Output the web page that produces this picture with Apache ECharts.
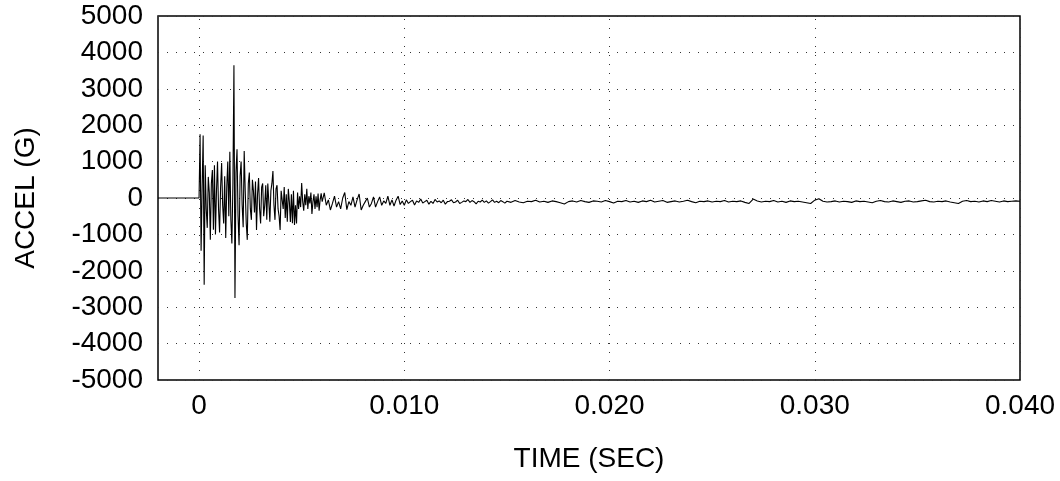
<!DOCTYPE html>
<html>
<head>
<meta charset="utf-8">
<script src="https://cdn.jsdelivr.net/npm/echarts@6/dist/echarts.min.js"></script>
<style>html,body{margin:0;padding:0;background:#fff;}#c{width:1060px;height:481px;}</style>
</head>
<body>
<div id="c"></div>
<script>
// Tick labels
var xTicks = [0, 0.010, 0.020, 0.030, 0.040];
var xTickLabels = ['0', '0.010', '0.020', '0.030', '0.040'];
var yTicks = [-5000, -4000, -3000, -2000, -1000, 0, 1000, 2000, 3000, 4000, 5000];

// Pre-trigger (flat) samples
var preTimes = [-0.002];
var preValues = [0];

// Burst segment: start 0 s, sample step 0.00005 s
var burstStart = 0;
var burstStep = 0.00005;
var burstValues = [
  0, 1750, -1450, 300, 1720, -2380, 900, -300, -820, 580,
  150, -1150, 400, 770, -870, 900, -1000, 200, 1000, -300,
  -950, 300, 960, -200, -700, 600, -1100, 300, 1000, -500,
  1270, -600, -1250, 400, 3650, -2750, 700, 1340, -500, -1300,
  600, 1000, -200, -800, 1290, 200, -700, -1150, 400, 700,
  -300, -600, 500, 200, -400, 450, -880, 100, 550, -300,
  -700, 300, 400, -500, -200, 350, -600, 400, -100, -650,
  200, 400, 740, -200, -600, 250, 350, -300, -500, -880,
  200, 250, -300, 300, -550, 100, -650, 250, -100, -660,
  100, -690, 200, -740, -200, -700, 150, -300, 50, -250,
  410, -100, -350, 100, -200, 250, -300, 50, -150, 150,
  -440, -100, 100, -300, 50, -250, 120, -350, -50, 130
];

// Decay segment: start 0.006 s, sample step 0.0001 s
var decayStart = 0.006;
var decayStep = 0.0001;
var decayValues = [
  -100, 140, -200, -50, -330, -150, 50, -250, -100, -300,
  0, 150, -320, -100, -200, 30, -250, -50, 110, -330,
  -200, -100, 0, -250, -150, 30, -250, -100, 30, -200,
  -80, -150, 50, -200, -50, -220, -60, 50, -180, -80,
  -200, -50, -150, -100, -60, -190, -80, -120, -30, -140,
  -100, -60, -170, -90, -150, -40, -110, -80, -130, -60,
  -170, -100, -90, -50, -130, -110, -60, -150, -120, -80,
  -100, -40, -120, -70, -100, -160, -90, -110, -60, -120,
  -80, -140, -100, -50, -120, -90, -130, -70, -100, -140
];

// Tail segment: start 0.015 s, sample step 0.0002 s
var tailStart = 0.015;
var tailStep = 0.0002;
var tailValues = [
  -90, -120, -70, -110, -130, -90, -100, -60, -110, -90,
  -120, -80, -100, -130, -165, -100, -80, -110, -70, -100,
  -120, -80, -90, -110, -70, -100, -140, -90, -100, -70,
  -110, -90, -120, -80, -100, -60, -110, -90, -70, -120,
  -100, -80, -110, -90, -60, -100, -130, -90, -100, -80,
  -110, -90, -100, -70, -110, -90, -100, -80, -120, -150,
  -30, -80, -110, -90, -100, -70, -110, -90, -120, -80,
  -100, -90, -110, -130, -150, -60, -20, -90, -110, -100,
  -80, -110, -90, -100, -120, -80, -100, -90, -110, -130,
  -90, -70, -100, -110, -80, -100, -120, -90, -80, -110,
  -100, -80, -60, -100, -110, -90, -100, -80, -110, -130,
  -150, -90, -70, -100, -90, -110, -80, -100, -70, -90,
  -110, -80, -100, -90, -80, -90
];

function seg(start, step, vals) {
  return vals.map(function (v, i) { return [+(start + i * step).toFixed(6), v]; });
}
var data = [];
preTimes.forEach(function (t, i) { data.push([t, preValues[i]]); });
data = data.concat(seg(burstStart, burstStep, burstValues),
                   seg(decayStart, decayStep, decayValues),
                   seg(tailStart, tailStep, tailValues));

var FONT = 'Liberation Sans, Arial, sans-serif';
var FS = 28;
var gridLine = { color: '#333', width: 1, type: [1, 8] };

var chart = echarts.init(document.getElementById('c'), null, { renderer: 'canvas' });
chart.setOption({
  animation: false,
  backgroundColor: '#fff',
  grid: { left: 158, right: 40, top: 16, bottom: 101, show: true, borderColor: '#000', borderWidth: 1.5, backgroundColor: 'transparent' },
  xAxis: {
    type: 'value', min: -0.002, max: 0.040,
    name: 'TIME (SEC)', nameLocation: 'middle', nameGap: 65,
    nameTextStyle: { fontFamily: FONT, fontSize: FS, color: '#000' },
    axisLine: { show: false }, axisTick: { show: false },
    splitLine: { show: false },
    axisLabel: {
      customValues: xTicks, margin: 12,
      fontFamily: FONT, fontSize: FS, color: '#000',
      formatter: function (v) { var k = xTicks.indexOf(v); return k >= 0 ? xTickLabels[k] : ''; }
    }
  },
  yAxis: {
    type: 'value', min: -5000, max: 5000, interval: 1000,
    name: 'ACCEL (G)', nameLocation: 'middle', nameGap: 118, nameRotate: 90,
    nameTextStyle: { fontFamily: FONT, fontSize: FS, color: '#000' },
    axisLine: { show: false }, axisTick: { show: false },
    splitLine: { show: true, lineStyle: gridLine },
    axisLabel: { margin: 15, fontFamily: FONT, fontSize: FS, color: '#000',
      formatter: function (v) { return String(v); } }
  },
  series: [{
    type: 'line', data: data, showSymbol: false, symbol: 'none', sampling: 'none',
    lineStyle: { color: '#000', width: 1.1 }, z: 5,
    markLine: {
      silent: true, symbol: ['none', 'none'], label: { show: false },
      lineStyle: gridLine, animation: false,
      data: xTicks.map(function (t) { return { xAxis: t }; })
    }
  }]
});
</script>
</body>
</html>
